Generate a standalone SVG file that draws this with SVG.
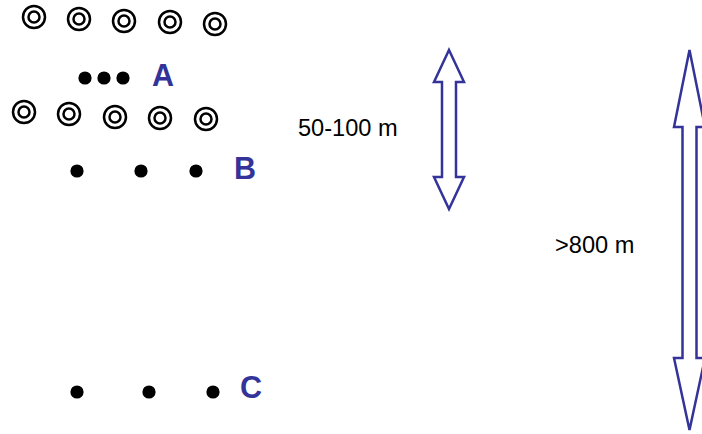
<svg xmlns="http://www.w3.org/2000/svg" width="702" height="434" viewBox="0 0 702 434">
  <style>
    .ring { fill: none; stroke: #000; stroke-width: 2.5; }
    .dot { fill: #000; }
    .lbl { font-family: "Liberation Sans", Arial, sans-serif; font-weight: bold; font-size: 30.5px; fill: #333399; }
    .dist { font-family: "Liberation Sans", Arial, sans-serif; font-size: 23.6px; fill: #000; }
    .span { fill: #fff; stroke: #333399; stroke-width: 2.5; stroke-linejoin: miter; }
  </style>
  <defs>
    <g id="target">
      <circle class="ring" r="11"/>
      <circle class="ring" r="5.5"/>
    </g>
  </defs>
  <rect width="702" height="434" fill="#fff"/>

  <!-- upper row of double-ring markers -->
  <g id="ringsTop">
    <use href="#target" x="34" y="17"/>
    <use href="#target" x="79" y="19"/>
    <use href="#target" x="124" y="21"/>
    <use href="#target" x="170" y="22"/>
    <use href="#target" x="215" y="24"/>
  </g>

  <!-- lower row of double-ring markers -->
  <g id="ringsBottom">
    <use href="#target" x="24" y="112"/>
    <use href="#target" x="69" y="114"/>
    <use href="#target" x="115" y="117"/>
    <use href="#target" x="160" y="118"/>
    <use href="#target" x="206" y="119"/>
  </g>

  <!-- group A -->
  <g id="groupA">
    <circle class="dot" cx="85" cy="78" r="6.6"/>
    <circle class="dot" cx="104" cy="78" r="6.6"/>
    <circle class="dot" cx="123" cy="78" r="6.6"/>
    <text class="lbl" x="152" y="86">A</text>
  </g>

  <!-- group B -->
  <g id="groupB">
    <circle class="dot" cx="77" cy="171" r="6.6"/>
    <circle class="dot" cx="141" cy="171" r="6.6"/>
    <circle class="dot" cx="196" cy="171" r="6.6"/>
    <text class="lbl" x="234" y="179">B</text>
  </g>

  <!-- group C -->
  <g id="groupC">
    <circle class="dot" cx="77" cy="392" r="6.6"/>
    <circle class="dot" cx="149" cy="392" r="6.6"/>
    <circle class="dot" cx="213" cy="392" r="6.6"/>
    <text class="lbl" x="240" y="398">C</text>
  </g>

  <!-- distance indicators -->
  <g id="connectors">
    <g id="spanShort">
      <polygon class="span" points="449,50 464,82 456,82 456,177 464,177 449,209 434,177 442,177 442,82 434,82"/>
      <text class="dist" x="298" y="136">50-100 m</text>
    </g>
    <g id="spanLong">
      <polygon class="span" points="689.5,50 705,127 696.5,127 696.5,358 705,358 689.5,430 674,358 682.5,358 682.5,127 674,127"/>
      <text class="dist" x="555" y="253">&gt;800 m</text>
    </g>
  </g>
</svg>
